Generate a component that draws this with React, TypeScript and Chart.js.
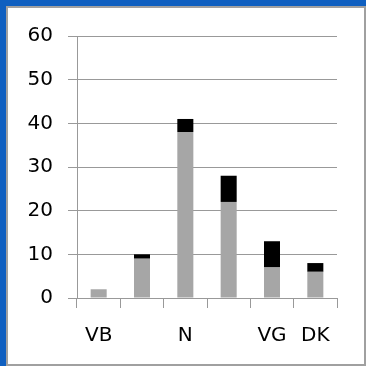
import React, { useEffect, useRef } from "react";
import { Chart, registerables } from "chart.js";

Chart.register(...registerables);

const categories = ["VB", "", "N", "", "VG", "DK"];
const grayValues = [2, 9, 38, 22, 7, 6];
const blackValues = [0, 1, 3, 6, 6, 2];
const yTicks = [0, 10, 20, 30, 40, 50, 60];

export default function App() {
  const ref = useRef<HTMLCanvasElement | null>(null);
  useEffect(() => {
    if (!ref.current) return;
    const chart = new Chart(ref.current, {
      type: "bar",
      data: {
        labels: categories,
        datasets: [
          { data: grayValues, backgroundColor: "#a6a6a6", barPercentage: 0.37, categoryPercentage: 1 },
          { data: blackValues, backgroundColor: "#000000", barPercentage: 0.37, categoryPercentage: 1 },
        ],
      },
      options: {
        responsive: false,
        animation: false,
        layout: { padding: { left: 0, right: 29, top: 36, bottom: 0 } },
        plugins: { legend: { display: false }, tooltip: { enabled: false } },
        scales: {
          x: {
            stacked: true,
            afterFit: (s: any) => { s.height = 68; },
            grid: { drawOnChartArea: false, color: "#999999", tickLength: 10, offset: true },
            border: { color: "#999999", width: 1 },
            ticks: { color: "#000000", font: { family: "DejaVu Sans", size: 20 }, padding: 16, maxRotation: 0, autoSkip: false },
          },
          y: {
            stacked: true,
            min: 0,
            max: 60,
            afterFit: (s: any) => { s.width = 77; },
            afterBuildTicks: (s: any) => { s.ticks = yTicks.map((v) => ({ value: v })); },
            grid: { color: "#999999", tickLength: 9 },
            border: { color: "#999999", width: 1 },
            ticks: { color: "#000000", font: { family: "DejaVu Sans", size: 20 }, padding: 15 },
          },
        },
      },
    });
    return () => chart.destroy();
  }, []);
  return (
    <div style={{ position: "fixed", left: 0, top: 0, width: 366, height: 366, background: "#0f5fc0" }}>
      <div style={{ position: "absolute", left: 6, top: 6, width: 360, height: 360, boxSizing: "border-box", border: "2px solid #a0a0a0", background: "#ffffff" }} />
      <canvas ref={ref} width={366} height={366} style={{ position: "absolute", left: 0, top: 0 }} />
    </div>
  );
}
